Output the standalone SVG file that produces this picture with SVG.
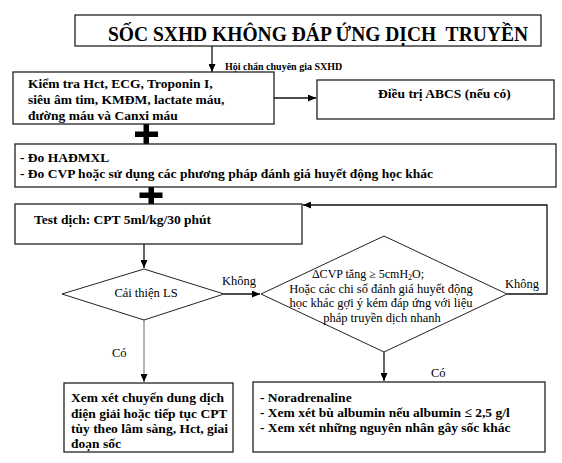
<svg xmlns="http://www.w3.org/2000/svg" width="562" height="463" viewBox="0 0 562 463">
<defs>
<style>
.box{fill:#fff;stroke:#222;stroke-width:1.3}
.dia{fill:#fff;stroke:#222;stroke-width:1}
.b{font-family:"Liberation Serif","Times New Roman",serif;font-weight:bold;font-size:13.5px;fill:#000}
.r{font-family:"Liberation Serif","Times New Roman",serif;font-size:12.5px;fill:#000}
.ln{fill:none;stroke:#111;stroke-width:1.3}
.thin{fill:none;stroke:#444;stroke-width:0.8}
.plus{fill:#000}
</style>
<marker id="ah" markerUnits="userSpaceOnUse" markerWidth="9" markerHeight="7" refX="8" refY="3.5" orient="auto">
<path d="M0,0 L8,3.5 L0,7 z" fill="#000"/>
</marker>
</defs>
<rect width="562" height="463" fill="#fff"/>

<g id="connectors">
<line class="ln" x1="212" y1="46" x2="212" y2="72" marker-end="url(#ah)"/>
<line class="ln" x1="274" y1="98" x2="316" y2="98" marker-end="url(#ah)"/>
<line class="ln" x1="144" y1="244" x2="144" y2="268" marker-end="url(#ah)"/>
<line class="ln" x1="224" y1="294" x2="260" y2="294" marker-end="url(#ah)"/>
<polyline class="ln" points="507,294 547,294 547,205 303,205" marker-end="url(#ah)"/>
<line class="thin" x1="144" y1="320" x2="144" y2="382" marker-end="url(#ah)"/>
<line class="ln" x1="384" y1="352" x2="384" y2="381" stroke-width="1.6" marker-end="url(#ah)"/>
<rect class="plus" x="135" y="131.5" width="23" height="5.5"/>
<rect class="plus" x="143.5" y="124" width="5.5" height="20"/>
<rect class="plus" x="139.5" y="192.5" width="23" height="5.5"/>
<rect class="plus" x="148.5" y="187" width="5.5" height="17"/>
<text class="r" x="222" y="285">Không</text>
<text class="r" x="505" y="288">Không</text>
<text class="r" x="112" y="357">Có</text>
<text class="r" x="431" y="376.5">Có</text>
<text class="b" x="225" y="70" style="font-size:10px">Hội chẩn chuyên gia SXHD</text>
</g>

<g id="title">
<rect class="box" x="75" y="15" width="466" height="31"/>
<text class="b" x="108" y="41" style="font-size:20.5px" textLength="420" lengthAdjust="spacingAndGlyphs" xml:space="preserve">SỐC SXHD KHÔNG ĐÁP ỨNG DỊCH  TRUYỀN</text>
</g>

<g id="tests">
<rect class="box" x="13" y="72" width="261" height="52"/>
<text class="b" x="28" y="87.5">Kiểm tra Hct, ECG, Troponin I,</text>
<text class="b" x="28" y="103.5">siêu âm tim, KMĐM, lactate máu,</text>
<text class="b" x="28" y="119.5">đường máu và Canxi máu</text>
</g>

<g id="abcs">
<rect class="box" x="317" y="80" width="237" height="39"/>
<text class="b" x="378" y="98">Điều trị ABCS (nếu có)</text>
</g>

<g id="measure">
<rect class="box" x="15" y="144" width="541" height="43"/>
<text class="b" x="20" y="161.5">- Đo HAĐMXL</text>
<text class="b" x="20" y="177.5">- Đo CVP hoặc sử dụng các phương pháp đánh giá huyết động học khác</text>
</g>

<g id="testfluid">
<rect class="box" x="15" y="204" width="287" height="40"/>
<text class="b" x="34" y="224">Test dịch: CPT 5ml/kg/30 phút</text>
</g>

<g id="improve">
<polygon class="dia" points="62,294 144,269 224,294 144,320"/>
<text class="r" x="146" y="296.5" text-anchor="middle">Cải thiện LS</text>
</g>

<g id="cvp">
<polygon class="dia" points="261,294 384,236 507,294 384,352"/>
<text class="r" x="368" y="277.5" text-anchor="middle" style="font-size:12px">ΔCVP tăng ≥ 5cmH<tspan font-size="8" dy="2">2</tspan><tspan dy="-2">O;</tspan></text>
<text class="r" x="381" y="292.5" text-anchor="middle">Hoặc các chi số đánh giá huyết động</text>
<text class="r" x="381" y="307" text-anchor="middle">học khác gợi ý kém đáp ứng với liệu</text>
<text class="r" x="382" y="321.5" text-anchor="middle">pháp truyền dịch nhanh</text>
</g>

<g id="electrolyte">
<rect class="box" x="64" y="383" width="169" height="69"/>
<text class="b" x="71" y="402">Xem xét chuyển dung dịch</text>
<text class="b" x="71" y="417.5">điện giải hoặc tiếp tục CPT</text>
<text class="b" x="71" y="433">tùy theo lâm sàng, Hct, giai</text>
<text class="b" x="71" y="448">đoạn sốc</text>
</g>

<g id="noradrenaline">
<rect class="box" x="253" y="382" width="292" height="70"/>
<text class="b" x="260" y="402">- Noradrenaline</text>
<text class="b" x="260" y="417">- Xem xét bù albumin nếu albumin ≤ 2,5 g/l</text>
<text class="b" x="260" y="432">- Xem xét những nguyên nhân gây sốc khác</text>
</g>
</svg>
